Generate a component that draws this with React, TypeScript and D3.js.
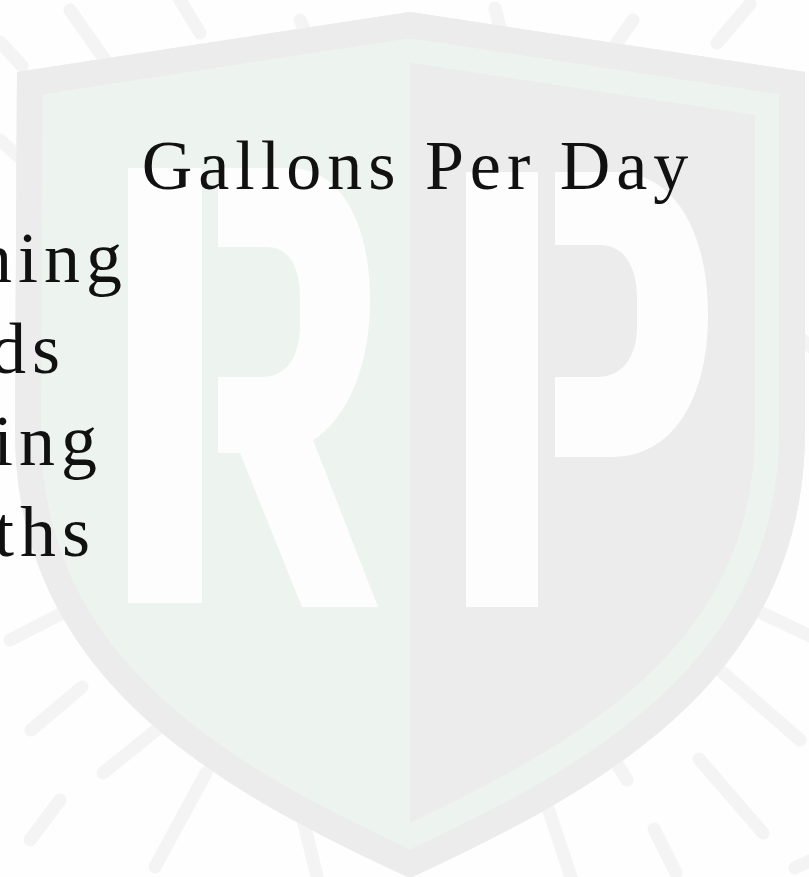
import React from "react";
import * as d3 from "d3";

// ---- content ----
const titleText = "Gallons Per Day";
const categories = ["Cleaning", "Hands", "Cooking", "Baths"];
// visible right edge of each (cropped) category label, px
const labelRightEdge = [122, 60, 97, 90];

// ---- decorative background rays (start/end points) ----
const rays: [number, number, number, number][] = [
  [70, 10, 110, 67],
  [177, -5, 200, 33],
  [300, 20, 322, 68],
  [495, 8, 508, 58],
  [633, 20, 607, 57],
  [750, 4, 717, 43],
  [0, 140, 28, 165],
  [0, 42, 22, 66],
  [790, 330, 815, 350],
  [760, 612, 812, 637],
  [722, 672, 800, 740],
  [699, 759, 763, 833],
  [613, 757, 627, 780],
  [654, 829, 676, 873],
  [548, 808, 572, 880],
  [10, 640, 82, 603],
  [31, 730, 82, 687],
  [103, 773, 165, 723],
  [155, 867, 206, 773],
  [300, 808, 318, 880],
  [30, 840, 60, 800],
  [795, 868, 812, 860],
];

const W = 809;
const H = 877;

const MINT = "#edf4f0";
const GRAY = "#ececec";
const LETTER = "#fcfdfc";
const RAY = "#f4f4f4";

function shieldPath(): string {
  const p = d3.path();
  p.moveTo(17, 72);
  p.lineTo(410, 12);
  p.lineTo(805, 72);
  p.lineTo(805, 430);
  p.bezierCurveTo(805, 680, 600, 790, 410, 878);
  p.bezierCurveTo(220, 790, 15, 680, 15, 430);
  p.closePath();
  return p.toString();
}

function rPath(): string {
  const p = d3.path();
  // stem
  p.moveTo(128, 168);
  p.lineTo(202, 168);
  p.lineTo(202, 603);
  p.lineTo(128, 603);
  p.closePath();
  // bowl + leg
  p.moveTo(218, 168);
  p.lineTo(290, 168);
  p.bezierCurveTo(342, 168, 370, 225, 370, 300);
  p.bezierCurveTo(370, 368, 346, 420, 313, 440);
  p.lineTo(378, 607);
  p.lineTo(302, 607);
  p.lineTo(240, 453);
  p.lineTo(218, 453);
  p.closePath();
  // counter
  p.moveTo(218, 247);
  p.lineTo(266, 247);
  p.bezierCurveTo(290, 247, 300, 268, 300, 298);
  p.lineTo(300, 325);
  p.bezierCurveTo(300, 357, 286, 377, 262, 377);
  p.lineTo(218, 377);
  p.closePath();
  return p.toString();
}

function pPath(): string {
  const p = d3.path();
  p.moveTo(466, 172);
  p.lineTo(538, 172);
  p.lineTo(538, 607);
  p.lineTo(466, 607);
  p.closePath();
  p.moveTo(555, 172);
  p.lineTo(615, 172);
  p.bezierCurveTo(675, 172, 708, 232, 708, 315);
  p.bezierCurveTo(708, 400, 672, 457, 612, 457);
  p.lineTo(555, 457);
  p.closePath();
  p.moveTo(555, 245);
  p.lineTo(600, 245);
  p.bezierCurveTo(625, 245, 637, 268, 637, 298);
  p.lineTo(637, 327);
  p.bezierCurveTo(637, 358, 621, 377, 598, 377);
  p.lineTo(555, 377);
  p.closePath();
  return p.toString();
}

export default function App() {
  const rowY = d3.scalePoint<string>().domain(categories).range([282, 556]);
  const shield = shieldPath();
  const fontFamily = "'Liberation Serif', 'Times New Roman', serif";
  const ls = 6;

  return (
    <svg
      width={W}
      height={H}
      viewBox={`0 0 ${W} ${H}`}
      style={{ position: "absolute", left: 0, top: 0, display: "block" }}
    >
      <defs>
        <clipPath id="shieldClip">
          <path d={shield} />
        </clipPath>
      </defs>
      <rect x={0} y={0} width={W} height={H} fill="#fefefe" />
      <g stroke={RAY} strokeWidth={13} strokeLinecap="round">
        {rays.map((r, i) => (
          <line key={i} x1={r[0]} y1={r[1]} x2={r[2]} y2={r[3]} />
        ))}
      </g>
      <g clipPath="url(#shieldClip)">
        <rect x={0} y={0} width={410} height={H} fill={MINT} />
        <rect x={410} y={0} width={W - 410} height={H} fill={GRAY} />
        <path d={shield} fill="none" stroke={MINT} strokeWidth={100} />
        <path d={shield} fill="none" stroke={GRAY} strokeWidth={52} />
        <path d={rPath()} fill={LETTER} fillRule="evenodd" />
        <path d={pPath()} fill={LETTER} fillRule="evenodd" />
      </g>
      <text
        x={415 + ls / 2}
        y={189}
        textAnchor="middle"
        fontFamily={fontFamily}
        fontSize={70}
        letterSpacing={ls}
        fill="#111"
      >
        {titleText}
      </text>
      {categories.map((c, i) => (
        <text
          key={c}
          x={labelRightEdge[i] + ls}
          y={rowY(c)}
          textAnchor="end"
          fontFamily={fontFamily}
          fontSize={72}
          letterSpacing={ls}
          fill="#111"
        >
          {c}
        </text>
      ))}
    </svg>
  );
}
